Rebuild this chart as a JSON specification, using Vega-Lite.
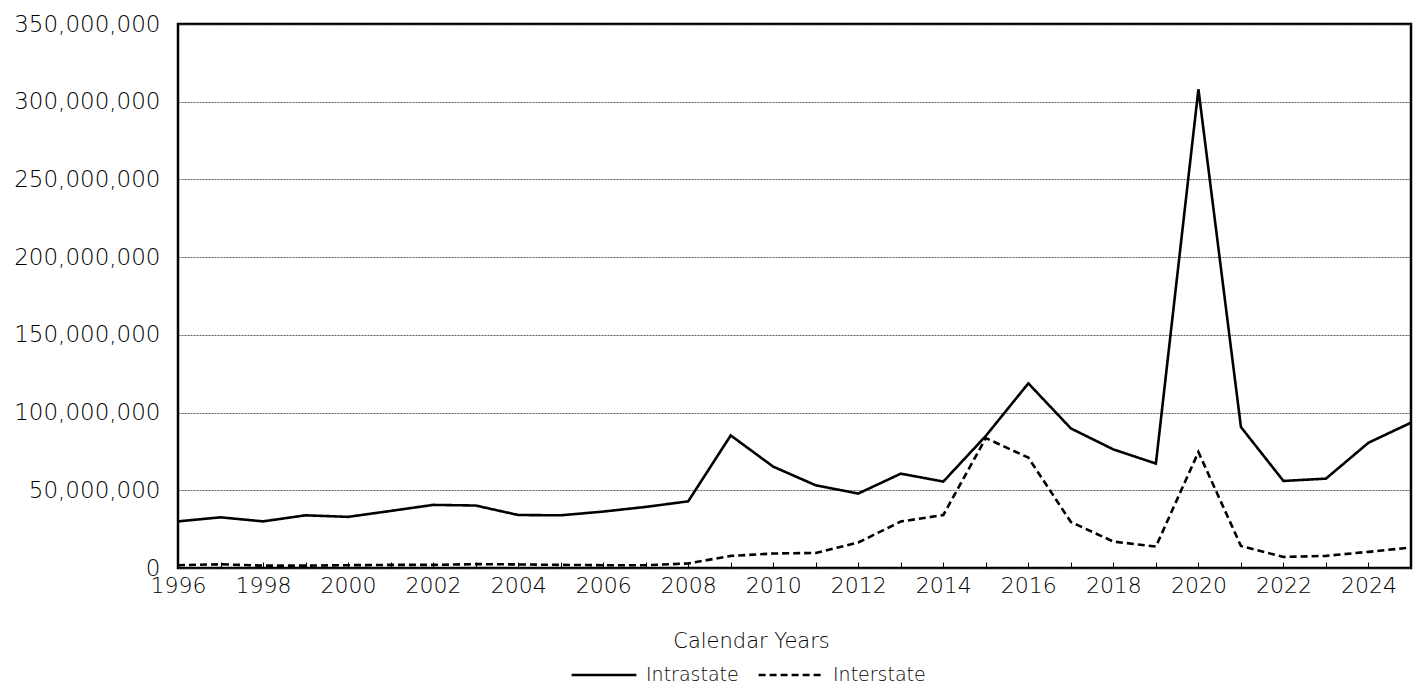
{
  "$schema": "https://vega.github.io/schema/vega-lite/v6.json",
  "width": 1233,
  "height": 544,
  "autosize": {"type": "none"},
  "padding": {"left": 178, "top": 24, "right": 7, "bottom": 118},
  "background": "white",
  "config": {
    "font": "DejaVu Sans",
    "view": {"stroke": "black", "strokeWidth": 2.5},
    "axis": {"labelFont": "DejaVu Sans", "titleFont": "DejaVu Sans", "labelColor": "black", "titleColor": "black", "labelFontWeight": 200, "titleFontWeight": 200},
    "legend": {"labelFont": "DejaVu Sans", "labelFontWeight": 200, "labelColor": "black"}
  },
  "data": {
    "values": [
      {"year": 1996, "series": "Intrastate", "value": 30000000},
      {"year": 1997, "series": "Intrastate", "value": 32600000},
      {"year": 1998, "series": "Intrastate", "value": 30000000},
      {"year": 1999, "series": "Intrastate", "value": 33900000},
      {"year": 2000, "series": "Intrastate", "value": 32900000},
      {"year": 2001, "series": "Intrastate", "value": 36700000},
      {"year": 2002, "series": "Intrastate", "value": 40600000},
      {"year": 2003, "series": "Intrastate", "value": 40200000},
      {"year": 2004, "series": "Intrastate", "value": 34100000},
      {"year": 2005, "series": "Intrastate", "value": 33900000},
      {"year": 2006, "series": "Intrastate", "value": 36300000},
      {"year": 2007, "series": "Intrastate", "value": 39300000},
      {"year": 2008, "series": "Intrastate", "value": 42900000},
      {"year": 2009, "series": "Intrastate", "value": 85300000},
      {"year": 2010, "series": "Intrastate", "value": 65200000},
      {"year": 2011, "series": "Intrastate", "value": 53200000},
      {"year": 2012, "series": "Intrastate", "value": 47900000},
      {"year": 2013, "series": "Intrastate", "value": 60700000},
      {"year": 2014, "series": "Intrastate", "value": 55600000},
      {"year": 2015, "series": "Intrastate", "value": 85000000},
      {"year": 2016, "series": "Intrastate", "value": 118800000},
      {"year": 2017, "series": "Intrastate", "value": 89800000},
      {"year": 2018, "series": "Intrastate", "value": 76300000},
      {"year": 2019, "series": "Intrastate", "value": 67200000},
      {"year": 2020, "series": "Intrastate", "value": 308000000},
      {"year": 2021, "series": "Intrastate", "value": 90700000},
      {"year": 2022, "series": "Intrastate", "value": 56000000},
      {"year": 2023, "series": "Intrastate", "value": 57500000},
      {"year": 2024, "series": "Intrastate", "value": 80600000},
      {"year": 2025, "series": "Intrastate", "value": 93500000},
      {"year": 1996, "series": "Interstate", "value": 1800000},
      {"year": 1997, "series": "Interstate", "value": 2400000},
      {"year": 1998, "series": "Interstate", "value": 1500000},
      {"year": 1999, "series": "Interstate", "value": 1500000},
      {"year": 2000, "series": "Interstate", "value": 1800000},
      {"year": 2001, "series": "Interstate", "value": 2000000},
      {"year": 2002, "series": "Interstate", "value": 2000000},
      {"year": 2003, "series": "Interstate", "value": 2500000},
      {"year": 2004, "series": "Interstate", "value": 2300000},
      {"year": 2005, "series": "Interstate", "value": 2000000},
      {"year": 2006, "series": "Interstate", "value": 1800000},
      {"year": 2007, "series": "Interstate", "value": 1800000},
      {"year": 2008, "series": "Interstate", "value": 2900000},
      {"year": 2009, "series": "Interstate", "value": 7800000},
      {"year": 2010, "series": "Interstate", "value": 9300000},
      {"year": 2011, "series": "Interstate", "value": 9700000},
      {"year": 2012, "series": "Interstate", "value": 16400000},
      {"year": 2013, "series": "Interstate", "value": 29900000},
      {"year": 2014, "series": "Interstate", "value": 34100000},
      {"year": 2015, "series": "Interstate", "value": 83600000},
      {"year": 2016, "series": "Interstate", "value": 71000000},
      {"year": 2017, "series": "Interstate", "value": 29600000},
      {"year": 2018, "series": "Interstate", "value": 17000000},
      {"year": 2019, "series": "Interstate", "value": 13800000},
      {"year": 2020, "series": "Interstate", "value": 74600000},
      {"year": 2021, "series": "Interstate", "value": 14200000},
      {"year": 2022, "series": "Interstate", "value": 7100000},
      {"year": 2023, "series": "Interstate", "value": 7800000},
      {"year": 2024, "series": "Interstate", "value": 10400000},
      {"year": 2025, "series": "Interstate", "value": 13200000}
    ]
  },
  "mark": {"type": "line", "color": "black", "strokeWidth": 2.6, "clip": true},
  "encoding": {
    "x": {
      "field": "year",
      "type": "quantitative",
      "scale": {"domain": [1996, 2025], "nice": false, "zero": false},
      "axis": {
        "title": "Calendar Years",
        "titleFontSize": 21,
        "titleX": 573,
        "titlePadding": 34,
        "values": [1996,1997,1998,1999,2000,2001,2002,2003,2004,2005,2006,2007,2008,2009,2010,2011,2012,2013,2014,2015,2016,2017,2018,2019,2020,2021,2022,2023,2024,2025],
        "format": "d",
        "labelExpr": "datum.value % 2 == 0 ? datum.label : ''",
        "labelFontSize": 22,
        "labelPadding": 13,
        "tickSize": -6,
        "tickColor": "black",
        "tickWidth": 1,
        "domain": false,
        "grid": false,
        "labelOverlap": false,
        "labelFlush": false
      }
    },
    "y": {
      "field": "value",
      "type": "quantitative",
      "scale": {"domain": [0, 350000000], "nice": false},
      "axis": {
        "title": null,
        "values": [0, 50000000, 100000000, 150000000, 200000000, 250000000, 300000000, 350000000],
        "format": ",d",
        "labelFontSize": 23,
        "labelPadding": 18,
        "ticks": false,
        "domain": false,
        "grid": true,
        "gridColor": "#333",
        "gridDash": [2, 1],
        "gridWidth": 0.8
      }
    },
    "strokeDash": {
      "field": "series",
      "type": "nominal",
      "scale": {"domain": ["Intrastate", "Interstate"], "range": [[1, 0], [7, 4]]},
      "legend": {
        "title": null,
        "orient": "none",
        "direction": "horizontal",
        "legendX": 392,
        "legendY": 617,
        "symbolType": "stroke",
        "symbolSize": 4200,
        "symbolStrokeWidth": 2.5,
        "symbolStrokeColor": "black",
        "labelFontSize": 19,
        "columnPadding": 14,
        "labelOffset": 8
      }
    }
  }
}
